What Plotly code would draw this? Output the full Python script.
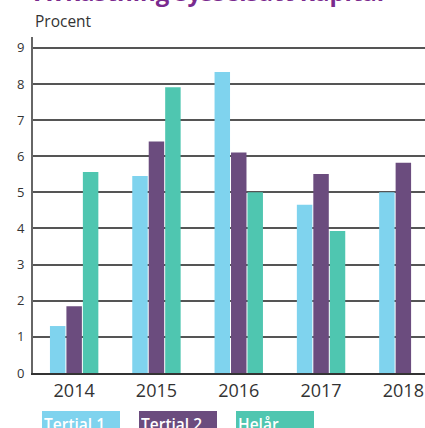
import plotly.graph_objects as go

years = ["2014", "2015", "2016", "2017", "2018"]
tertial1 = [1.3, 5.45, 8.33, 4.66, 5.0]
tertial2 = [1.85, 6.41, 6.1, 5.51, 5.82]
helar = [5.56, 7.91, 5.0, 3.93, None]
series_names = ["Tertial 1", "Tertial 2", "Helår"]
colors = ["#7fd3ee", "#6b4c7e", "#4fc6b0"]
y_ticks = list(range(0, 10))

FONT = "Open Sans"

fig = go.Figure()
for name, vals, col in zip(series_names, [tertial1, tertial2, helar], colors):
    fig.add_trace(go.Bar(x=years, y=vals, name=name, marker=dict(color=col, line=dict(width=0)),
                         showlegend=False))

fig.update_layout(
    width=425, height=428,
    margin=dict(l=33, r=0, t=37, b=55),
    paper_bgcolor="white", plot_bgcolor="white",
    barmode="group", bargap=0.4, bargroupgap=0.06,
    font=dict(family=FONT, color="#333333"),
)
fig.update_xaxes(
    type="category", range=[-0.5, 4.263],
    showgrid=False, showline=True, linecolor="#333333", linewidth=2,
    ticks="", tickfont=dict(size=18, color="#333333"),
)
fig.update_yaxes(
    range=[0, 9.3], tickvals=y_ticks,
    showgrid=True, gridcolor="#555555", gridwidth=1.5,
    showline=True, linecolor="#666666", linewidth=2,
    zeroline=False, ticks="", ticklabelstandoff=4,
    tickfont=dict(size=13, color="#333333"),
)

# Cropped title
fig.add_annotation(text="<b>Avkastning sysselsatt kapital</b>", xref="paper", yref="paper",
                   x=0, y=1, xanchor="left", yanchor="bottom", yshift=27, showarrow=False,
                   font=dict(size=24, color="#7a2a8e", family=FONT))
fig.add_annotation(text="Procent", xref="paper", yref="paper", x=0, y=1, xanchor="left",
                   yanchor="bottom", yshift=3, showarrow=False,
                   font=dict(size=15.5, color="#333333", family=FONT))

# Legend boxes
box_x = [42, 139, 236]
for name, col, bx in zip(series_names, colors, box_x):
    fig.add_annotation(text=name, xref="paper", yref="paper",
                       x=(bx - 33) / 392, y=-(411 - 372.7) / 336,
                       xanchor="left", yanchor="top", showarrow=False,
                       width=74, height=22, align="left", valign="top",
                       bgcolor=col, borderpad=2, borderwidth=0,
                       font=dict(size=15.5, color="white", family=FONT, weight=600))

fig.write_html("out.html", config={"displayModeBar": False},
               post_script="document.body.style.margin='0';document.body.style.overflow='hidden';")
